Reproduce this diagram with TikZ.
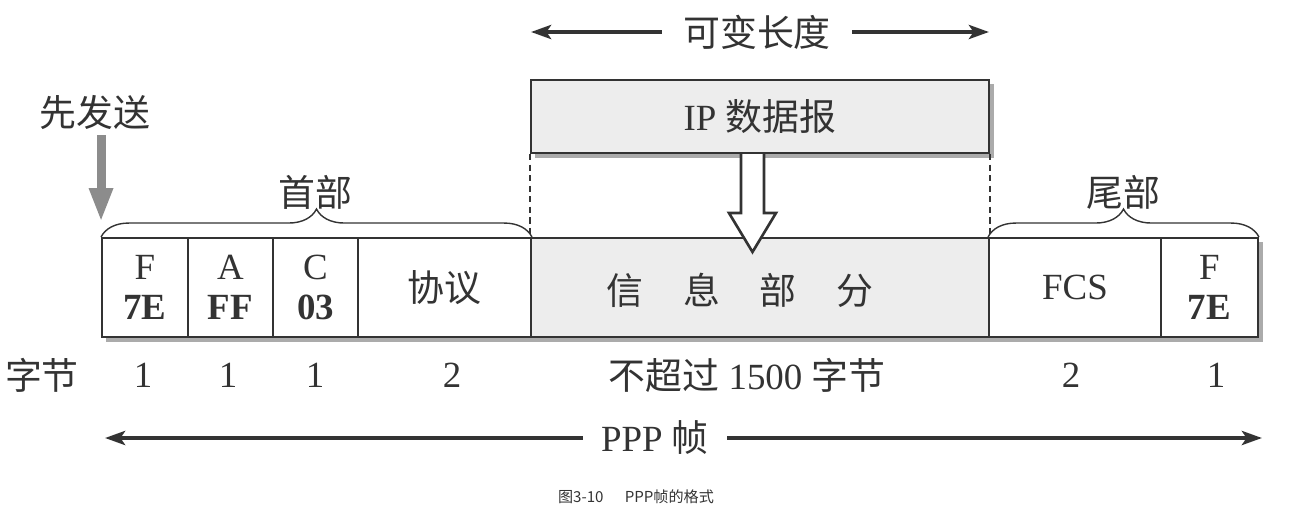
\documentclass[tikz,border=0pt]{standalone}
\usepackage{fontspec}
\setmainfont{Liberation Serif}
\newfontfamily\cjk{Noto Sans CJK SC}
\usetikzlibrary{arrows.meta, positioning, decorations.pathreplacing, calc}
\definecolor{mInk}{HTML}{333333}
\definecolor{mFill}{HTML}{EDEDED}
\definecolor{mShadow}{HTML}{ABABAB}
\definecolor{mSend}{HTML}{8C8C8C}
\newcommand{\unitpx}{0.02cm}

\begin{document}
\begin{tikzpicture}[x=0.02cm, y=-0.02cm,
      every node/.style={text=mInk, font=\fontsize{21}{23}\selectfont},
      cell/.style={draw=mInk, line width=1.1pt, minimum height=99*\unitpx, inner sep=0pt, align=center},
      lbl/.style={inner sep=0pt},
      dim/.style={draw=mInk, line width=2.3pt, -{Stealth[length=4mm, width=2.8mm, inset=0.9mm]}},
      brc/.style={draw=mInk, line width=0.8pt, decorate, decoration={brace, amplitude=0.56cm}},
      sendarr/.style={draw=mSend, line width=0.18cm, -{Triangle[length=0.68cm, width=0.44cm]}}]
    \useasboundingbox (0,0) rectangle (1303,514);
    % shadows
    \fill[mShadow] (106,242) rectangle (1263,342);
    \fill[mShadow] (535,84) rectangle (994,158);
    % frame
    \node[cell, fill=white, minimum width=86*\unitpx] (fF) at (145,287.5) {F\\\textbf{7E}};
    \node[cell, fill=white, minimum width=85*\unitpx] (fA) at (230.5,287.5) {A\\\textbf{FF}};
    \node[cell, fill=white, minimum width=85*\unitpx] (fC) at (315.5,287.5) {C\\\textbf{03}};
    \node[cell, fill=white, minimum width=173*\unitpx] (proto) at (444.5,287.5) {\cjk 协议};
    \node[cell, fill=mFill, minimum width=458*\unitpx] (info) at (760,287.5) {};
    \node[cell, fill=white, minimum width=172*\unitpx] (fcs) at (1075,287.5) {FCS};
    \node[cell, fill=white, minimum width=97*\unitpx] (fE) at (1209.5,287.5) {F\\\textbf{7E}};
    \node[lbl] (infotxt) at (740,290) {\cjk 信\hspace{0.8cm}息\hspace{0.8cm}部\hspace{0.8cm}分};
    % IP datagram
    \node[cell, fill=mFill, minimum width=458*\unitpx, minimum height=73*\unitpx] (ip) at (760,116.5) {IP {\cjk 数据报}};
    \draw[mInk, line width=0.8pt, dash pattern=on 3.6pt off 2.4pt] (ip.south west) -- (info.north west);
    \draw[mInk, line width=0.8pt, dash pattern=on 3.6pt off 2.4pt] (ip.south east) -- (info.north east);
    \draw[mInk, fill=white, line width=1.5pt] (741,154) -- (741,213) -- (729,213) -- (752.5,252)
      -- (776,213) -- (764,213) -- (764,154);
    % variable length
    \node[lbl, inner xsep=0.42cm] (var) at (757,32) {\cjk 可变长度};
    \coordinate (varL) at (531,32);
    \coordinate (varR) at (989,32);
    \draw[dim] (var.west) -- (varL);
    \draw[dim] (var.east) -- (varR);
    % sent first
    \node[lbl] (send) at (95,112) {\cjk 先发送};
    \draw[sendarr, shorten <=0.12cm, shorten >=0.3cm] (send.south -| fF.north west) -- (fF.north west);
    % braces
    \draw[brc] (fF.north west) -- (proto.north east);
    \draw[brc] (fcs.north west) -- (fE.north east);
    \node[lbl] (head) at (315,192) {\cjk 首部};
    \node[lbl] (tail) at (1123,192) {\cjk 尾部};
    % byte counts
    \node[lbl] (bytes) at (42,375) {\cjk 字节};
    \node[lbl] (n1) at (143,375) {1};
    \node[lbl] (n2) at (228,375) {1};
    \node[lbl] (n3) at (315,375) {1};
    \node[lbl] (n4) at (452,375) {2};
    \node[lbl] (n5) at (747,375) {{\cjk 不超过} 1500 {\cjk 字节}};
    \node[lbl] (n6) at (1071,375) {2};
    \node[lbl] (n7) at (1216,375) {1};
    % PPP frame
    \node[lbl, inner xsep=0.36cm] (ppp) at (655,438) {PPP {\cjk 帧}};
    \coordinate (pppL) at (105,438);
    \coordinate (pppR) at (1262,438);
    \draw[dim] (ppp.west) -- (pppL);
    \draw[dim] (ppp.east) -- (pppR);
    \node[lbl, font=\cjk\fontsize{8.6}{10}\selectfont] (cap) at (636,497) {图3-10\hspace{1.4em}PPP帧的格式};
  \end{tikzpicture}
\end{document}
